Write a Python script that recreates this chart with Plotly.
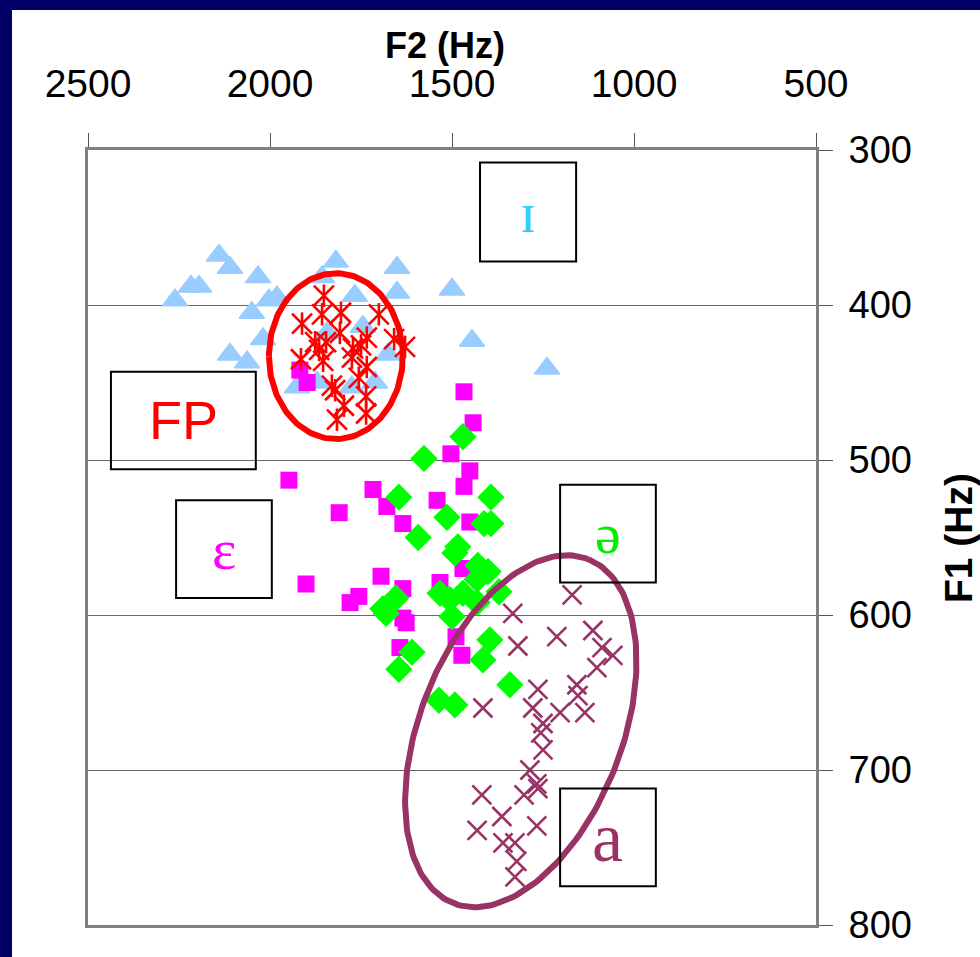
import numpy as np
import plotly.graph_objects as go

# ---------------- data (F2, F1 in Hz) ----------------
tri_f2 = [2140, 2110, 2217, 2195, 2033, 2261, 2003, 1981, 2050, 2019, 2110, 2063, 1819, 1857,
          1767, 1651, 1651, 1500, 1745, 1843, 1676, 1926, 1871, 1775, 1712, 1445, 1239]
tri_f1 = [368, 376, 388, 388, 382, 397, 397, 395, 405, 422, 432, 437, 372, 382,
          394, 376, 392, 390, 414, 418, 432, 453, 450, 453, 450, 423, 441]

ast_f2 = [1852, 1857, 1805, 1912, 1701, 1808, 1876, 1846, 1865, 1734, 1659, 1629, 1915,
          1854, 1772, 1775, 1734, 1756, 1830, 1821, 1797, 1816, 1736, 1736, 1750]
ast_f1 = [394, 406, 405, 412, 406, 418, 424, 424, 429, 421, 422, 427, 435,
          436, 428, 434, 440, 447, 452, 455, 465, 474, 459, 470, 426]

sq_f2 = [1467, 1442, 1503, 1451, 1467, 1948, 1717, 1541, 1679, 1810, 1635, 1451, 1470,
         1695, 1533, 1635, 1901, 1780, 1756, 1635, 1626, 1643, 1489, 1473, 1918, 1898]
sq_f1 = [456, 476, 496, 507, 517, 513, 519, 526, 530, 534, 541, 540, 570,
         575, 579, 583, 580, 592, 588, 602, 605, 621, 614, 626, 442, 450]

dia_f2 = [1470, 1577, 1646, 1393, 1514, 1412, 1393, 1593, 1484, 1492, 1429, 1401, 1431, 1533,
          1470, 1506, 1431, 1371, 1500, 1690, 1681, 1654, 1396, 1415, 1610, 1646, 1341, 1536, 1492]
dia_f1 = [485, 499, 524, 524, 537, 541, 541, 550, 556, 560, 568, 572, 577, 586,
          586, 590, 592, 585, 601, 596, 599, 589, 616, 629, 624, 635, 645, 655, 658]

x_f2 = [1170, 1333, 1212, 1113, 1319, 1088, 1058, 1102, 1157, 1154, 1264, 1415, 1278, 1203, 1135,
        1250, 1256, 1250, 1286, 1267, 1418, 1302, 1363, 1267, 1431, 1360, 1327, 1322, 1327, 1264]
x_f1 = [587, 599, 614, 610, 620, 621, 626, 634, 645, 652, 648, 660, 660, 663, 663,
        670, 676, 687, 700, 709, 716, 716, 730, 736, 739, 747, 747, 759, 769, 712]

x_ticks = [2500, 2000, 1500, 1000, 500]
y_ticks = [300, 400, 500, 600, 700, 800]

# label boxes: (text, colour, F2 left, F2 right, F1 top, F1 bottom, font, size)
labels = [
    ("ɪ", "#33CCFF", 1423, 1159, 308, 372, "Liberation Serif, DejaVu Serif, serif", 58),
    ("FP", "#FF0000", 2437, 2039, 443, 506, "Liberation Sans, Arial, sans-serif", 54),
    ("ɛ", "#FF00FF", 2258, 1995, 526, 589, "Liberation Serif, DejaVu Serif, serif", 58),
    ("ə", "#00EE00", 1203, 940, 516, 579, "Liberation Serif, DejaVu Serif, serif", 58),
    ("a", "#993366", 1203, 940, 712, 775, "Liberation Serif, DejaVu Serif, serif", 70),
]

# ellipses (centre, axis vectors in Hz)
red_ell = dict(c=(1819, 433), a=(184, 0), b=(0, 53.5))
pur_ell = dict(c=(1311, 675), a=(-185, -111), b=(-258.5, 23.8))


def ellipse(e, n=200):
    t = np.linspace(0, 2 * np.pi, n)
    xs = e["c"][0] + np.cos(t) * e["a"][0] + np.sin(t) * e["b"][0]
    ys = e["c"][1] + np.cos(t) * e["a"][1] + np.sin(t) * e["b"][1]
    return xs, ys


fig = go.Figure()

fig.add_trace(go.Scatter(x=tri_f2, y=tri_f1, mode="markers",
                         marker=dict(symbol="triangle-up", size=22, color="#99CCFF",
                                     line=dict(width=1.5, color="#99CCFF"))))
fig.add_trace(go.Scatter(x=sq_f2, y=sq_f1, mode="markers",
                         marker=dict(symbol="square", size=17, color="#FF00FF",
                                     line=dict(width=0))))
fig.add_trace(go.Scatter(x=dia_f2, y=dia_f1, mode="markers",
                         marker=dict(symbol="diamond", size=21, color="#00FF00",
                                     line=dict(width=0))))
# asterisks: X + vertical bar
fig.add_trace(go.Scatter(x=ast_f2, y=ast_f1, mode="markers",
                         marker=dict(symbol="x-thin-open", size=20, color="#FF0000",
                                     line=dict(width=2.6, color="#FF0000"))))
fig.add_trace(go.Scatter(x=ast_f2, y=ast_f1, mode="markers",
                         marker=dict(symbol="line-ns-open", size=16, color="#FF0000",
                                     line=dict(width=2.6, color="#FF0000"))))
fig.add_trace(go.Scatter(x=x_f2, y=x_f1, mode="markers",
                         marker=dict(symbol="x-thin-open", size=19, color="#993366",
                                     line=dict(width=2.6, color="#993366"))))

for e, col in [(red_ell, "#FF0000"), (pur_ell, "#993366")]:
    ex, ey = ellipse(e)
    fig.add_trace(go.Scatter(x=ex, y=ey, mode="lines",
                             line=dict(color=col, width=6), hoverinfo="skip"))

shapes = []
annotations = []
for txt, col, x0, x1, y0, y1, fnt, sz in labels:
    shapes.append(dict(type="rect", xref="x", yref="y", x0=x0, x1=x1, y0=y0, y1=y1,
                       line=dict(color="#000000", width=2), fillcolor="rgba(0,0,0,0)",
                       layer="above"))
    annotations.append(dict(x=(x0 + x1) / 2, y=(y0 + y1) / 2, xref="x", yref="y",
                            xanchor="center", yanchor="middle",
                            text=txt, showarrow=False,
                            font=dict(family=fnt, size=sz, color=col)))

# plot-area geometry in pixels
L, R, T, B = 88, 816, 150, 925
W, H = 980, 957


def px(xp):
    return (xp - L) / (R - L)


def py(yp):
    return (B - yp) / (B - T)


# white page with navy frame (left and top)
shapes.insert(0, dict(type="rect", xref="paper", yref="paper",
                      x0=px(12), x1=px(W + 5), y0=py(H + 30), y1=py(10),
                      fillcolor="#FFFFFF", line=dict(width=0), layer="below"))

annotations.append(dict(x=px(445), y=py(46), xref="paper", yref="paper",
                        xanchor="center", yanchor="middle",
                        text="<b>F2 (Hz)</b>", showarrow=False,
                        font=dict(family="Liberation Sans, Arial", size=36, color="#000000")))
annotations.append(dict(x=px(958), y=py(538), xref="paper", yref="paper",
                        xanchor="center", yanchor="middle",
                        text="<b>F1 (Hz)</b>", showarrow=False, textangle=-90,
                        font=dict(family="Liberation Sans, Arial", size=39, color="#000000")))

fig.update_layout(
    width=W, height=H,
    margin=dict(l=L, r=W - R, t=T, b=H - B, pad=0),
    paper_bgcolor="#000066",
    plot_bgcolor="#FFFFFF",
    showlegend=False,
    shapes=shapes,
    annotations=annotations,
    xaxis=dict(range=[2500, 500], side="top", tickvals=x_ticks,
               ticktext=[str(v) for v in x_ticks],
               ticks="outside", ticklen=14, tickcolor="#555555", tickwidth=1,
               ticklabelstandoff=20,
               showgrid=False, zeroline=False,
               showline=True, linecolor="#808080", linewidth=3, mirror=True,
               tickfont=dict(family="Liberation Sans, Arial", size=39, color="#000000")),
    yaxis=dict(range=[800, 300], side="right", tickvals=y_ticks,
               ticktext=[str(v) for v in y_ticks],
               ticks="outside", ticklen=14, tickcolor="#555555", tickwidth=1,
               ticklabelstandoff=8,
               showgrid=True, gridcolor="#666666", gridwidth=1, zeroline=False,
               showline=True, linecolor="#808080", linewidth=3, mirror=True,
               tickfont=dict(family="Liberation Sans, Arial", size=38, color="#000000")),
)

fig.write_html("out.html", config={"displayModeBar": False},
               post_script="document.body.style.margin='0';document.body.style.overflow='hidden';")
